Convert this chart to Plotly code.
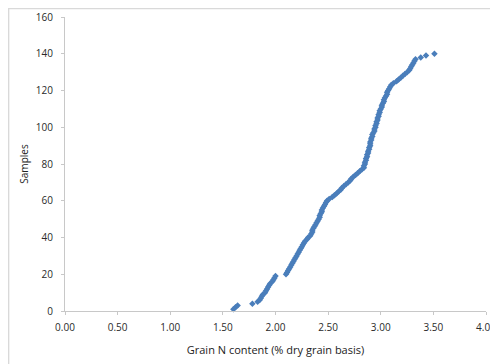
import plotly.graph_objects as go

grain_n = [
    1.60, 1.62, 1.64, 1.78, 1.83, 1.85, 1.86, 1.87, 1.88, 1.90,
    1.91, 1.92, 1.93, 1.94, 1.95, 1.97, 1.98, 1.99, 2.00, 2.10,
    2.11, 2.12, 2.13, 2.14, 2.15, 2.16, 2.17, 2.18, 2.19, 2.20,
    2.21, 2.22, 2.23, 2.24, 2.25, 2.26, 2.27, 2.28, 2.30, 2.31,
    2.33, 2.34, 2.35, 2.35, 2.36, 2.37, 2.38, 2.39, 2.40, 2.41,
    2.42, 2.42, 2.43, 2.44, 2.44, 2.45, 2.46, 2.47, 2.48, 2.49,
    2.51, 2.54, 2.56, 2.58, 2.60, 2.62, 2.63, 2.65, 2.67, 2.69,
    2.71, 2.72, 2.74, 2.76, 2.78, 2.80, 2.82, 2.84, 2.84, 2.85,
    2.85, 2.86, 2.86, 2.87, 2.87, 2.88, 2.88, 2.89, 2.89, 2.90,
    2.90, 2.90, 2.91, 2.91, 2.92, 2.92, 2.93, 2.94, 2.94, 2.95,
    2.95, 2.96, 2.96, 2.97, 2.97, 2.98, 2.98, 2.99, 2.99, 3.00,
    3.01, 3.01, 3.02, 3.03, 3.03, 3.04, 3.05, 3.06, 3.06, 3.07,
    3.08, 3.09, 3.10, 3.12, 3.15, 3.17, 3.19, 3.21, 3.23, 3.25,
    3.27, 3.28, 3.29, 3.30, 3.31, 3.32, 3.33, 3.38, 3.43, 3.51,
]
samples = list(range(1, len(grain_n) + 1))

x_ticks = [0, 0.5, 1.0, 1.5, 2.0, 2.5, 3.0, 3.5, 4.0]
x_tick_labels = ["0.00", "0.50", "1.00", "1.50", "2.00", "2.50", "3.00", "3.50", "4.00"]
y_ticks = [0, 20, 40, 60, 80, 100, 120, 140, 160]

fig = go.Figure()
fig.add_trace(go.Scatter(
    x=grain_n, y=samples, mode="markers",
    marker=dict(symbol="diamond", size=5, color="#4A7EBB"),
    showlegend=False, cliponaxis=False,
))

font = "Open Sans, Lato, sans-serif"
axis_common = dict(
    showgrid=False, zeroline=False, showline=True, linecolor="#C8C8C8", linewidth=1,
    ticks="outside", ticklen=3, tickcolor="#C8C8C8", automargin=False,
    tickfont=dict(family=font, size=10, color="#2a2a2a"),
)
fig.update_xaxes(range=[0, 4], tickvals=x_ticks, ticktext=x_tick_labels,
                 ticklabelstandoff=4,
                 title=dict(text="Grain N content (% dry grain basis)",
                            font=dict(family=font, size=11, color="#222222"), standoff=13),
                 **axis_common)
fig.update_yaxes(range=[0, 160], tickvals=y_ticks, ticklabelstandoff=6,
                 title=dict(text="Samples", font=dict(family=font, size=10, color="#222222"), standoff=5),
                 **axis_common)

# page body adds ~8px offset; figure sized to compensate
fig.add_shape(type="rect", xref="paper", yref="paper",
              x0=-0.134, x1=1.2, y0=-0.3, y1=1.029,
              line=dict(color="#D9D9D9", width=1.5), layer="below")

fig.update_layout(
    width=490, height=356,
    margin=dict(l=57, r=12, t=9, b=53),
    paper_bgcolor="white", plot_bgcolor="white",
)
fig.write_html("out.html")
